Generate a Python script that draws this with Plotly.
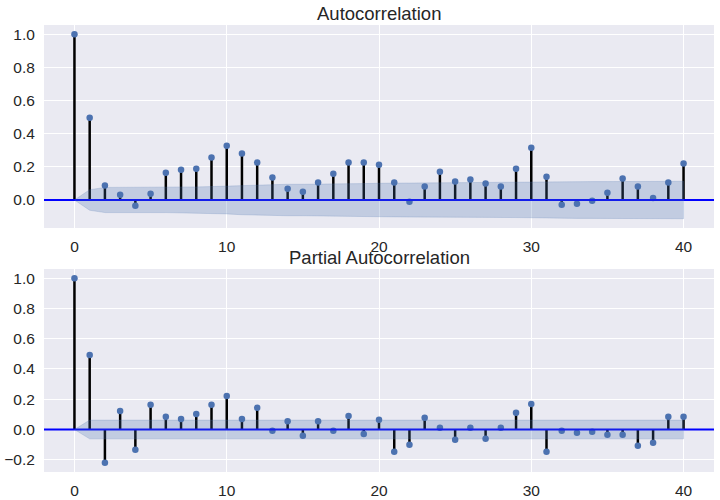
import plotly.graph_objects as go

lags = list(range(41))

acf_vals = [1.0, 0.497, 0.087, 0.032, -0.034, 0.038, 0.165, 0.183, 0.189, 0.256,
            0.328, 0.280, 0.226, 0.135, 0.068, 0.050, 0.105, 0.159, 0.226, 0.226,
            0.213, 0.105, -0.010, 0.081, 0.171, 0.111, 0.123, 0.099, 0.081, 0.189,
            0.316, 0.141, -0.028, -0.022, -0.004, 0.044, 0.129, 0.081, 0.012, 0.105,
            0.220]

acf_band = [0.0, 0.062, 0.076, 0.076, 0.076, 0.076, 0.076, 0.078, 0.079, 0.081,
            0.084, 0.089, 0.092, 0.094, 0.095, 0.095, 0.095, 0.096, 0.097, 0.099,
            0.101, 0.102, 0.103, 0.103, 0.103, 0.104, 0.105, 0.105, 0.106, 0.106,
            0.107, 0.111, 0.111, 0.111, 0.111, 0.111, 0.112, 0.112, 0.112, 0.112,
            0.113]

pacf_vals = [1.0, 0.492, -0.220, 0.123, -0.134, 0.163, 0.084, 0.070, 0.103, 0.163,
             0.222, 0.070, 0.143, -0.009, 0.055, -0.042, 0.055, -0.009, 0.090, -0.029,
             0.064, -0.147, -0.101, 0.077, 0.011, -0.068, 0.011, -0.062, 0.011, 0.110,
             0.169, -0.147, -0.009, -0.022, -0.015, -0.035, -0.035, -0.108, -0.088, 0.084,
             0.084]

pacf_band = [0.0] + [0.062] * 40

x_ticks = [0, 10, 20, 30, 40]
acf_yticks = [0.0, 0.2, 0.4, 0.6, 0.8, 1.0]
pacf_yticks = [-0.2, 0.0, 0.2, 0.4, 0.6, 0.8, 1.0]
titles = ["Autocorrelation", "Partial Autocorrelation"]

XR = [-2, 42]
W, H = 720, 500
ML, MR, MT, MB = 44, 6, 25, 28
PH = H - MT - MB

fig = go.Figure()

def add_panel(vals, band, xa, ya):
    sx, sy = [], []
    for k, v in zip(lags, vals):
        sx += [k, k, None]
        sy += [0, v, None]
    fig.add_trace(go.Scatter(x=sx, y=sy, mode="lines", xaxis=xa, yaxis=ya,
                             line=dict(color="black", width=2.5), hoverinfo="skip",
                             showlegend=False))
    fig.add_trace(go.Scatter(x=lags, y=vals, mode="markers", xaxis=xa, yaxis=ya,
                             marker=dict(color="#4C72B0", size=6.5), showlegend=False))
    fig.add_trace(go.Scatter(x=XR, y=[0, 0], mode="lines", xaxis=xa, yaxis=ya,
                             line=dict(color="blue", width=2.2), hoverinfo="skip",
                             showlegend=False))
    bx = lags + lags[::-1]
    by = band + [-b for b in band[::-1]]
    fig.add_trace(go.Scatter(x=bx, y=by, mode="lines", fill="toself", xaxis=xa, yaxis=ya,
                             fillcolor="rgba(76,114,176,0.25)",
                             line=dict(width=0.8, color="rgba(76,114,176,0.25)"),
                             hoverinfo="skip", showlegend=False))

add_panel(acf_vals, acf_band, "x", "y")
add_panel(pacf_vals, pacf_band, "x2", "y2")

FONT = "Liberation Sans, Arial, sans-serif"
tickfont = dict(family=FONT, size=15.5, color="#262626")
axcommon = dict(range=XR, tickvals=x_ticks, showgrid=True, gridcolor="white", gridwidth=1.4,
                zeroline=False, showline=False, ticks="outside", ticklen=4,
                tickcolor="rgba(0,0,0,0)", tickfont=tickfont, automargin=False)
ycommon = dict(showgrid=True, gridcolor="white", gridwidth=1.4, zeroline=False,
               showline=False, ticks="outside", ticklen=5, tickcolor="rgba(0,0,0,0)",
               tickfont=tickfont, tickformat=".1f", automargin=False)

top_lo = (H - MB - 228) / PH
bot_hi = (H - MB - 269) / PH

fig.update_layout(
    width=W, height=H,
    margin=dict(l=ML, r=MR, t=MT, b=MB),
    paper_bgcolor="white",
    plot_bgcolor="#EAEAF2",
    xaxis=dict(domain=[0, 1], anchor="y", **axcommon),
    yaxis=dict(domain=[top_lo, 1], anchor="x",
               range=[-0.169, 1.056], tickvals=acf_yticks, **ycommon),
    xaxis2=dict(domain=[0, 1], anchor="y2", **axcommon),
    yaxis2=dict(domain=[0, bot_hi], anchor="x2",
                range=[-0.281, 1.061], tickvals=pacf_yticks, **ycommon),
    annotations=[
        dict(text=titles[0], x=0.5, y=1, xref="paper", yref="paper",
             xanchor="center", yanchor="bottom", yshift=-1, showarrow=False,
             font=dict(family=FONT, size=18.5, color="#262626")),
        dict(text=titles[1], x=0.5, y=bot_hi, xref="paper", yref="paper",
             xanchor="center", yanchor="bottom", yshift=-1, showarrow=False,
             font=dict(family=FONT, size=18.5, color="#262626")),
    ],
)

fig.write_html("out.html",
               config={"displayModeBar": False},
               post_script="document.body.style.margin='0';document.body.style.overflow='hidden';")
